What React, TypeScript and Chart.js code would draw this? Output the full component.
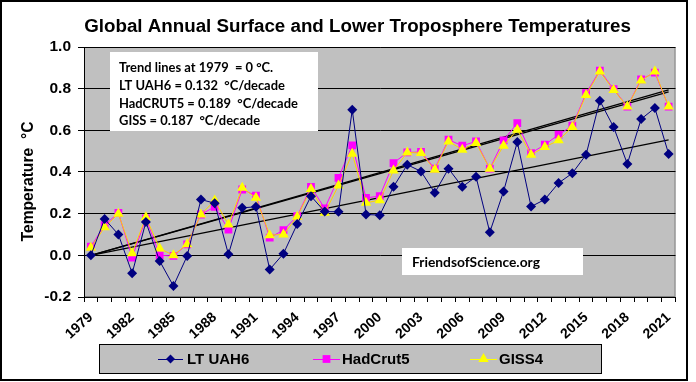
import React, { useEffect, useRef } from "react";
import { Chart, registerables } from "chart.js";

Chart.register(...registerables);

const years = [
  "1979", "1980", "1981", "1982", "1983", "1984", "1985", "1986", "1987", "1988",
  "1989", "1990", "1991", "1992", "1993", "1994", "1995", "1996", "1997", "1998",
  "1999", "2000", "2001", "2002", "2003", "2004", "2005", "2006", "2007", "2008",
  "2009", "2010", "2011", "2012", "2013", "2014", "2015", "2016", "2017", "2018",
  "2019", "2020", "2021",
];

const uah6 = [
  0.0, 0.175, 0.1, -0.086, 0.16, -0.027, -0.147, -0.003, 0.268, 0.25,
  0.005, 0.228, 0.233, -0.068, 0.008, 0.15, 0.284, 0.21, 0.209, 0.699,
  0.196, 0.193, 0.329, 0.435, 0.403, 0.3, 0.416, 0.329, 0.377, 0.111,
  0.307, 0.544, 0.234, 0.268, 0.347, 0.394, 0.483, 0.742, 0.616, 0.439,
  0.654, 0.707, 0.487,
];

const hadcrut5 = [
  0.042, 0.145, 0.204, -0.011, 0.177, 0.0, -0.003, 0.053, 0.196, 0.233,
  0.124, 0.316, 0.287, 0.085, 0.121, 0.188, 0.329, 0.225, 0.372, 0.528,
  0.276, 0.284, 0.443, 0.494, 0.496, 0.416, 0.555, 0.526, 0.547, 0.416,
  0.552, 0.635, 0.491, 0.531, 0.579, 0.622, 0.778, 0.887, 0.798, 0.714,
  0.845, 0.877, 0.714,
];

const giss4 = [
  0.037, 0.135, 0.2, 0.01, 0.183, 0.033, 0.0, 0.053, 0.196, 0.263,
  0.148, 0.324, 0.276, 0.097, 0.1, 0.185, 0.319, 0.204, 0.335, 0.488,
  0.252, 0.265, 0.407, 0.494, 0.491, 0.411, 0.547, 0.507, 0.539, 0.416,
  0.526, 0.603, 0.483, 0.52, 0.552, 0.616, 0.77, 0.882, 0.794, 0.714,
  0.839, 0.882, 0.714,
];

// trend line end points (first year, last year)
const trendYears = ["1979", "2021"];
const trendUAH = [0, 0.554];
const trendHad = [0, 0.794];
const trendGISS = [0, 0.785];

const yTicks = [-0.2, 0.0, 0.2, 0.4, 0.6, 0.8, 1.0];
const xLabelEvery = 3;

const titleText = "Global Annual Surface and Lower Troposphere Temperatures";
const yTitle = "Temperature  \u00B0C";
const noteLines = [
  "Trend lines at 1979  = 0 \u00B0C.",
  "LT UAH6 = 0.132  \u00B0C/decade",
  "HadCRUT5 = 0.189  \u00B0C/decade",
  "GISS = 0.187  \u00B0C/decade",
];
const creditText = "FriendsofScience.org";
const legendNames = ["LT UAH6", "HadCrut5", "GISS4"];

const NAVY = "#000080";
const MAGENTA = "#FF00FF";
const YELLOW = "#FFFF00";
const ARIAL = "'Liberation Sans', Arial, sans-serif";
const CALIBRI = "Lato, 'Open Sans', sans-serif";

function fitFont(ctx: CanvasRenderingContext2D, text: string, family: string, weight: string, base: number, width: number) {
  ctx.font = `${weight} ${base}px ${family}`;
  const w = ctx.measureText(text).width;
  const size = (base * width) / w;
  return `${weight} ${size.toFixed(2)}px ${family}`;
}

function drawMarker(ctx: CanvasRenderingContext2D, style: string, x: number, y: number, r: number, fill: string) {
  ctx.save();
  ctx.fillStyle = fill;
  ctx.beginPath();
  if (style === "rectRot") {
    ctx.moveTo(x, y - r);
    ctx.lineTo(x + r, y);
    ctx.lineTo(x, y + r);
    ctx.lineTo(x - r, y);
  } else if (style === "rect") {
    const s = r * Math.SQRT1_2;
    ctx.rect(x - s, y - s, 2 * s, 2 * s);
  } else {
    for (let i = 0; i < 3; i++) {
      const a = -Math.PI / 2 + (i * 2 * Math.PI) / 3;
      const px = x + Math.cos(a) * r;
      const py = y + Math.sin(a) * r;
      if (i === 0) ctx.moveTo(px, py);
      else ctx.lineTo(px, py);
    }
  }
  ctx.closePath();
  ctx.fill();
  ctx.restore();
}

const decorPlugin = {
  id: "decor",
  beforeDraw(chart: any) {
    const { ctx, chartArea: a } = chart;
    ctx.save();
    ctx.fillStyle = "#FFFFFF";
    ctx.fillRect(0, 0, chart.width, chart.height);
    ctx.fillStyle = "#C0C0C0";
    ctx.fillRect(a.left, a.top, a.right - a.left, a.bottom - a.top);
    ctx.strokeStyle = "#808080";
    ctx.lineWidth = 1;
    ctx.strokeRect(a.left + 0.5, a.top + 0.5, a.right - a.left - 1, a.bottom - a.top - 1);
    ctx.restore();
  },
  afterDraw(chart: any) {
    const { ctx } = chart;
    const xs = chart.scales.x;
    ctx.save();
    // outer frame
    ctx.strokeStyle = "#000";
    ctx.lineWidth = 2;
    ctx.strokeRect(1, 1, 686, 379);

    // x tick labels (rotated)
    ctx.fillStyle = "#000";
    ctx.font = `bold 14px ${ARIAL}`;
    ctx.textAlign = "right";
    ctx.textBaseline = "middle";
    const rot = (-42 * Math.PI) / 180;
    years.forEach((yr, i) => {
      if (i % xLabelEvery !== 0) return;
      const px = xs.getPixelForValue(i);
      ctx.save();
      ctx.translate(px, xs.top + 18.5);
      ctx.rotate(rot);
      ctx.fillText(yr, 0, 0);
      ctx.restore();
    });

    // title
    ctx.fillStyle = "#000";
    ctx.textBaseline = "alphabetic";
    ctx.textAlign = "center";
    ctx.font = fitFont(ctx, titleText, ARIAL, "bold", 18, 547);
    ctx.fillText(titleText, 357.5, 31.5);

    // y axis title
    ctx.save();
    ctx.translate(33, 181.5);
    ctx.rotate(-Math.PI / 2);
    ctx.font = fitFont(ctx, yTitle, ARIAL, "bold", 15, 120);
    ctx.textAlign = "center";
    ctx.textBaseline = "alphabetic";
    ctx.fillText(yTitle, 0, 0);
    ctx.restore();

    // note box
    ctx.fillStyle = "#FFFFFF";
    ctx.fillRect(110, 52, 208, 79);
    ctx.fillStyle = "#000";
    ctx.textAlign = "left";
    ctx.textBaseline = "middle";
    ctx.font = fitFont(ctx, noteLines[2], CALIBRI, "bold", 13, 179);
    const lineY = [67.5, 85.5, 103.5, 121];
    noteLines.forEach((t, i) => ctx.fillText(t, 119, lineY[i]));

    // credit box
    ctx.fillStyle = "#FFFFFF";
    ctx.fillRect(402, 248, 181, 27);
    ctx.fillStyle = "#000";
    ctx.font = fitFont(ctx, creditText, CALIBRI, "bold", 13, 128);
    ctx.fillText(creditText, 412, 262.5);

    // legend
    ctx.fillStyle = "#C0C0C0";
    ctx.fillRect(99, 344, 502, 29);
    ctx.strokeStyle = "#000";
    ctx.lineWidth = 1;
    ctx.strokeRect(99.5, 344.5, 502, 29);
    const items = [
      { x0: 158, x1: 183, tx: 187, color: NAVY, fill: NAVY, style: "rectRot", r: 4.5 },
      { x0: 313, x1: 340, tx: 342, color: MAGENTA, fill: MAGENTA, style: "rect", r: 5.5 },
      { x0: 470, x1: 497, tx: 499, color: YELLOW, fill: YELLOW, style: "triangle", r: 6 },
    ];
    const ly = 359;
    items.forEach((it, i) => {
      ctx.strokeStyle = it.color;
      ctx.lineWidth = 1;
      ctx.beginPath();
      ctx.moveTo(it.x0, ly + 0.5);
      ctx.lineTo(it.x1, ly + 0.5);
      ctx.stroke();
      drawMarker(ctx, it.style, (it.x0 + it.x1) / 2, ly, it.r, it.fill);
      ctx.fillStyle = "#000";
      ctx.font = `bold 15px ${ARIAL}`;
      ctx.textAlign = "left";
      ctx.textBaseline = "middle";
      ctx.fillText(legendNames[i], it.tx, ly + 1);
    });
    ctx.restore();
  },
};

function trendData(vals: number[]) {
  return trendYears.map((yr, i) => ({ x: yr, y: vals[i] }));
}

export default function App() {
  const ref = useRef<HTMLCanvasElement | null>(null);
  useEffect(() => {
    document.body.style.margin = "0";
    const canvas = ref.current!;
    const chart = new Chart(canvas, {
      type: "line",
      data: {
        labels: years,
        datasets: [
          {
            label: "LT UAH6",
            data: uah6,
            borderColor: NAVY,
            backgroundColor: NAVY,
            borderWidth: 1,
            pointStyle: "rectRot",
            pointRadius: 5,
            pointBorderWidth: 0,
            pointBackgroundColor: NAVY,
            order: 0,
          },
          {
            label: "GISS4",
            data: giss4,
            borderColor: "#FFD200",
            backgroundColor: YELLOW,
            borderWidth: 1,
            pointStyle: "triangle",
            pointRadius: 6,
            pointBorderWidth: 0,
            pointBackgroundColor: YELLOW,
            order: 1,
          },
          {
            label: "HadCrut5",
            data: hadcrut5,
            borderColor: MAGENTA,
            backgroundColor: MAGENTA,
            borderWidth: 1,
            pointStyle: "rect",
            pointRadius: 5.5,
            pointBorderWidth: 0,
            pointBackgroundColor: MAGENTA,
            order: 2,
          },
          {
            label: "UAH trend",
            data: trendData(trendUAH) as any,
            borderColor: "#000",
            borderWidth: 1.3,
            pointRadius: 0,
            order: 3,
          },
          {
            label: "HadCRUT trend",
            data: trendData(trendHad) as any,
            borderColor: "#000",
            borderWidth: 1.3,
            pointRadius: 0,
            order: 3,
          },
          {
            label: "GISS trend",
            data: trendData(trendGISS) as any,
            borderColor: "#000",
            borderWidth: 1.3,
            pointRadius: 0,
            order: 3,
          },
        ],
      },
      options: {
        responsive: false,
        animation: false,
        events: [],
        layout: { padding: { left: 0, right: 20.5, top: 47, bottom: 0 } },
        plugins: {
          legend: { display: false },
          title: { display: false },
          tooltip: { enabled: false },
        },
        scales: {
          x: {
            type: "category",
            offset: true,
            grid: { offset: true, drawOnChartArea: false, drawTicks: true, tickLength: 5, color: "#000" },
            border: { color: "#000", width: 1 },
            ticks: {
              display: false,
              autoSkip: false,
            },
            afterFit: (s: any) => {
              s.height = 85;
            },
          },
          y: {
            min: -0.2,
            max: 1.0,
            afterBuildTicks: (s: any) => {
              s.ticks = yTicks.map((v) => ({ value: v }));
            },
            grid: { color: "#000", tickLength: 6, lineWidth: 1 },
            border: { color: "#000", width: 1 },
            ticks: {
              padding: 7,
              color: "#000",
              font: { family: ARIAL, weight: "bold", size: 15.5 },
              callback: (v: any) => Number(v).toFixed(1),
            },
            afterFit: (s: any) => {
              s.width = 84;
            },
          },
        },
      },
      plugins: [decorPlugin],
    } as any);
    return () => chart.destroy();
  }, []);
  return <canvas ref={ref} width={696} height={382} style={{ display: "block", width: 696, height: 382 }} />;
}
